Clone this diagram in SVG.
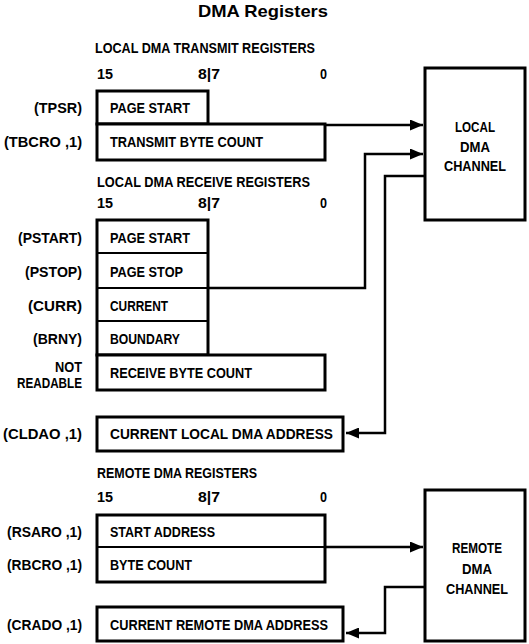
<svg xmlns="http://www.w3.org/2000/svg" width="529" height="644" viewBox="0 0 529 644">
<style>
text{font-family:"Liberation Sans",Arial,sans-serif;font-weight:bold;font-size:15px;fill:#000}
.title{font-size:17px;text-anchor:middle}
.lbl{text-anchor:end}
.mid{text-anchor:middle}
.box{fill:#fff;stroke:#000;stroke-width:3}
.div{stroke:#000;stroke-width:2;fill:none}
.conn{stroke:#000;stroke-width:2.5;fill:none}
</style>
<defs>
<marker id="ah" markerWidth="13" markerHeight="11" refX="13" refY="5.5" orient="auto" markerUnits="userSpaceOnUse">
<path d="M0,0 L13,5.5 L0,11 Z" fill="#000"/>
</marker>
</defs>
<rect width="529" height="644" fill="#fff"/>
<text class="title" x="263" y="17" textLength="130" lengthAdjust="spacingAndGlyphs">DMA Registers</text>

<g id="hdr-transmit">
<text x="95" y="53" textLength="220" lengthAdjust="spacingAndGlyphs">LOCAL DMA TRANSMIT REGISTERS</text>
<text x="97" y="79" textLength="16" lengthAdjust="spacingAndGlyphs">15</text>
<text x="198" y="79" textLength="22" lengthAdjust="spacingAndGlyphs">8|7</text>
<text x="320" y="79" textLength="7" lengthAdjust="spacingAndGlyphs">0</text>
</g>

<g id="tpsr">
<rect class="box" x="97" y="91" width="111" height="33"/>
<text x="110" y="113" textLength="80" lengthAdjust="spacingAndGlyphs">PAGE START</text>
<text class="lbl" x="82" y="113" textLength="48" lengthAdjust="spacingAndGlyphs">(TPSR)</text>
</g>
<g id="tbcr">
<rect class="box" x="97" y="124" width="228" height="36"/>
<text x="110" y="147" textLength="153" lengthAdjust="spacingAndGlyphs">TRANSMIT BYTE COUNT</text>
<text class="lbl" x="82" y="147" textLength="78" lengthAdjust="spacingAndGlyphs">(TBCRO ,1)</text>
</g>

<g id="hdr-receive">
<text x="97" y="187" textLength="213" lengthAdjust="spacingAndGlyphs">LOCAL DMA RECEIVE REGISTERS</text>
<text x="97" y="208" textLength="16" lengthAdjust="spacingAndGlyphs">15</text>
<text x="198" y="208" textLength="22" lengthAdjust="spacingAndGlyphs">8|7</text>
<text x="320" y="208" textLength="7" lengthAdjust="spacingAndGlyphs">0</text>
</g>

<g id="receive-stack">
<rect class="box" x="97" y="220" width="111" height="135"/>
<line class="div" x1="97" y1="253" x2="208" y2="253"/>
<line class="div" x1="97" y1="288" x2="208" y2="288"/>
<line class="div" x1="97" y1="321" x2="208" y2="321"/>
</g>
<g id="pstart">
<text x="110" y="243" textLength="80" lengthAdjust="spacingAndGlyphs">PAGE START</text>
<text class="lbl" x="82" y="243" textLength="64" lengthAdjust="spacingAndGlyphs">(PSTART)</text>
</g>
<g id="pstop">
<text x="110" y="277" textLength="73" lengthAdjust="spacingAndGlyphs">PAGE STOP</text>
<text class="lbl" x="82" y="277" textLength="57" lengthAdjust="spacingAndGlyphs">(PSTOP)</text>
</g>
<g id="curr">
<text x="110" y="311" textLength="58" lengthAdjust="spacingAndGlyphs">CURRENT</text>
<text class="lbl" x="82" y="311" textLength="54" lengthAdjust="spacingAndGlyphs">(CURR)</text>
</g>
<g id="brny">
<text x="110" y="344" textLength="70" lengthAdjust="spacingAndGlyphs">BOUNDARY</text>
<text class="lbl" x="82" y="344" textLength="49" lengthAdjust="spacingAndGlyphs">(BRNY)</text>
</g>
<g id="rbc">
<rect class="box" x="97" y="355" width="228" height="35"/>
<text x="110" y="378" textLength="142" lengthAdjust="spacingAndGlyphs">RECEIVE BYTE COUNT</text>
<text class="lbl" x="82" y="372" textLength="27" lengthAdjust="spacingAndGlyphs">NOT</text>
<text class="lbl" x="82" y="388" textLength="65" lengthAdjust="spacingAndGlyphs">READABLE</text>
</g>
<g id="clda">
<rect class="box" x="97" y="417" width="246" height="34"/>
<text x="110" y="439" textLength="223" lengthAdjust="spacingAndGlyphs">CURRENT LOCAL DMA ADDRESS</text>
<text class="lbl" x="82" y="439" textLength="79" lengthAdjust="spacingAndGlyphs">(CLDAO ,1)</text>
</g>

<g id="hdr-remote">
<text x="97" y="478" textLength="160" lengthAdjust="spacingAndGlyphs">REMOTE DMA REGISTERS</text>
<text x="97" y="502" textLength="16" lengthAdjust="spacingAndGlyphs">15</text>
<text x="198" y="502" textLength="22" lengthAdjust="spacingAndGlyphs">8|7</text>
<text x="320" y="502" textLength="7" lengthAdjust="spacingAndGlyphs">0</text>
</g>
<g id="remote-regs">
<rect class="box" x="97" y="515" width="228" height="67"/>
<line class="div" x1="97" y1="547" x2="325" y2="547"/>
</g>
<g id="rsar">
<text x="110" y="537" textLength="105" lengthAdjust="spacingAndGlyphs">START ADDRESS</text>
<text class="lbl" x="82" y="537" textLength="75" lengthAdjust="spacingAndGlyphs">(RSARO ,1)</text>
</g>
<g id="rbcr">
<text x="110" y="570" textLength="82" lengthAdjust="spacingAndGlyphs">BYTE COUNT</text>
<text class="lbl" x="82" y="570" textLength="75" lengthAdjust="spacingAndGlyphs">(RBCRO ,1)</text>
</g>
<g id="crad">
<rect class="box" x="97" y="607" width="246" height="34"/>
<text x="110" y="630" textLength="218" lengthAdjust="spacingAndGlyphs">CURRENT REMOTE DMA ADDRESS</text>
<text class="lbl" x="82" y="630" textLength="75" lengthAdjust="spacingAndGlyphs">(CRADO ,1)</text>
</g>

<g id="local-channel">
<rect class="box" x="425" y="68" width="100" height="152"/>
<text class="mid" x="475" y="132" textLength="40" lengthAdjust="spacingAndGlyphs">LOCAL</text>
<text class="mid" x="475" y="152" textLength="30" lengthAdjust="spacingAndGlyphs">DMA</text>
<text class="mid" x="475" y="171" textLength="62" lengthAdjust="spacingAndGlyphs">CHANNEL</text>
</g>
<g id="remote-channel">
<rect class="box" x="425" y="490" width="100" height="151"/>
<text class="mid" x="477" y="553" textLength="50" lengthAdjust="spacingAndGlyphs">REMOTE</text>
<text class="mid" x="477" y="574" textLength="30" lengthAdjust="spacingAndGlyphs">DMA</text>
<text class="mid" x="477" y="594" textLength="62" lengthAdjust="spacingAndGlyphs">CHANNEL</text>
</g>

<g id="connectors">
<path class="conn" d="M325,125 H423" marker-end="url(#ah)"/>
<path class="conn" d="M208,288 H365 V154 H423" marker-end="url(#ah)"/>
<path class="conn" d="M425,176 H385 V433 H346" marker-end="url(#ah)"/>
<path class="conn" d="M325,547 H423" marker-end="url(#ah)"/>
<path class="conn" d="M425,587 H385 V633 H346" marker-end="url(#ah)"/>
</g>
</svg>
